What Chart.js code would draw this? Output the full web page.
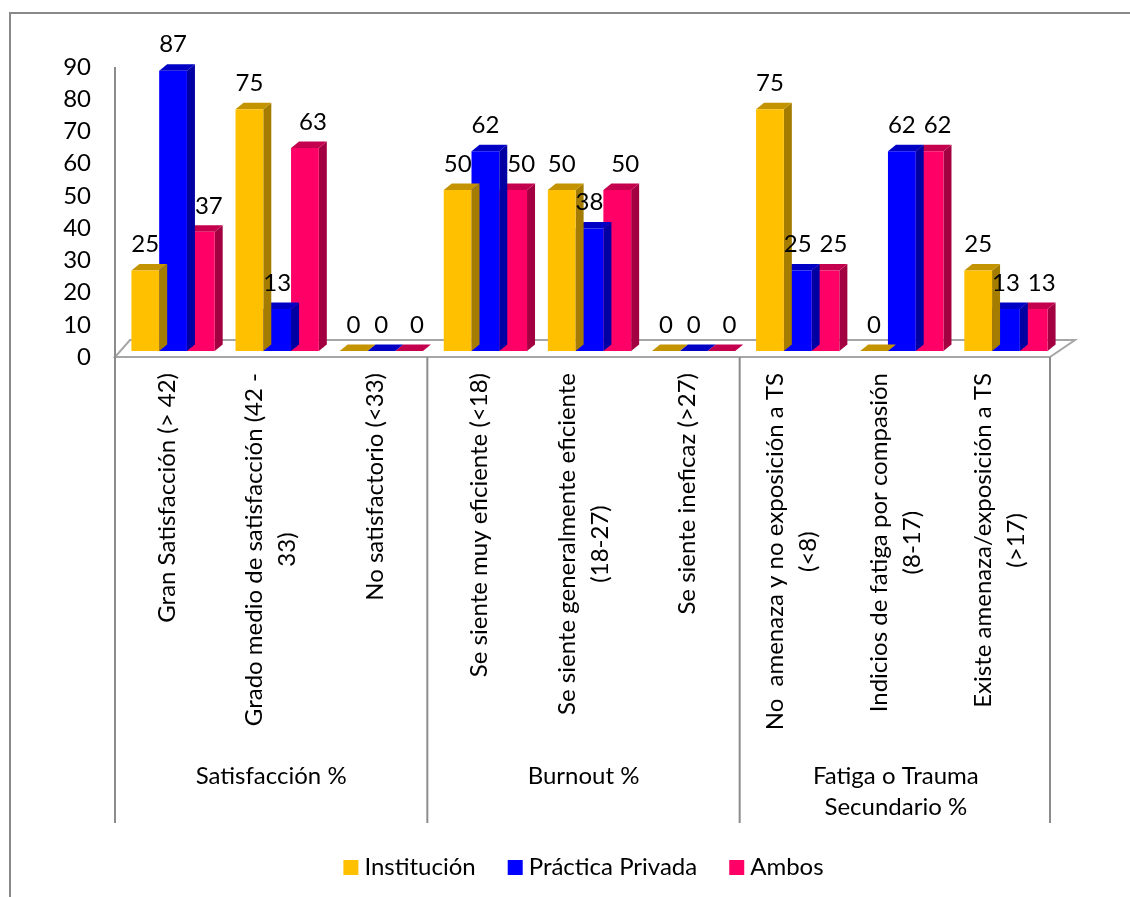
<!DOCTYPE html>
<html>
<head>
<meta charset="utf-8">
<script src="https://cdn.jsdelivr.net/npm/chart.js@4.4.0/dist/chart.umd.min.js"></script>
<style>
  html, body { margin: 0; padding: 0; background: #fff; }
  canvas { display: block; }
</style>
</head>
<body>
<canvas id="grafico" width="1130" height="897"></canvas>
<script>
// categorías del eje X (cada una puede tener dos líneas)
const categorias = [
  ["Gran Satisfacción (> 42)"],
  ["Grado medio de satisfacción (42 -", "33)"],
  ["No satisfactorio (<33)"],
  ["Se siente muy eficiente (<18)"],
  ["Se siente generalmente eficiente", "(18-27)"],
  ["Se siente ineficaz (>27)"],
  ["No  amenaza y no exposición a TS", "(<8)"],
  ["Indicios de fatiga por compasión", "(8-17)"],
  ["Existe amenaza/exposición a TS", "(>17)"],
];
// grupos de tres categorías
const grupos = [["Satisfacción %"], ["Burnout %"], ["Fatiga o Trauma", "Secundario %"]];

// series
const institucion = [25, 75, 0, 50, 50, 0, 75, 0, 25];
const practicaPrivada = [87, 13, 0, 62, 38, 0, 25, 62, 13];
const ambos = [37, 63, 0, 50, 50, 0, 25, 62, 13];

const yTicks = [0, 10, 20, 30, 40, 50, 60, 70, 80, 90];

const FUENTE = "Lato, 'DejaVu Sans', sans-serif";
const TAM = 24;
const DX = 8, DY = 6.5;      // profundidad de las barras
const FRENTE = 6;            // desplazamiento del plano frontal

// caras laterales y superiores de las barras + piso
const barras3d = {
  id: "barras3d",
  beforeDatasetsDraw(chart) {
    const { ctx, chartArea: a } = chart;
    const fy = a.bottom + FRENTE, by = a.bottom - 11;
    ctx.save();
    ctx.strokeStyle = "#a6a6a6";
    ctx.lineWidth = 2;
    ctx.beginPath();
    ctx.moveTo(a.left - FRENTE, fy);
    ctx.lineTo(a.right - 8, fy);
    ctx.lineTo(a.right + 17, by);
    ctx.lineTo(a.left + 9, by);
    ctx.closePath();
    ctx.stroke();
    ctx.restore();
  },
  beforeDatasetDraw(chart, args) {
    const ds = chart.data.datasets[args.index];
    const ctx = chart.ctx;
    ctx.save();
    args.meta.data.forEach((el) => {
      const l = el.x - el.width / 2, r = el.x + el.width / 2;
      const t = el.y, b = el.base;
      ctx.fillStyle = ds.colorLado;
      ctx.beginPath();
      ctx.moveTo(r, b);
      ctx.lineTo(r, t);
      ctx.lineTo(r + DX, t - DY);
      ctx.lineTo(r + DX, b - DY);
      ctx.closePath();
      ctx.fill();
      ctx.fillStyle = ds.colorTapa;
      ctx.beginPath();
      ctx.moveTo(l, t);
      ctx.lineTo(r, t);
      ctx.lineTo(r + DX, t - DY);
      ctx.lineTo(l + DX, t - DY);
      ctx.closePath();
      ctx.fill();
    });
    ctx.restore();
  },
  afterDatasetsDraw(chart) {
    // valores sobre las barras
    const ctx = chart.ctx;
    ctx.save();
    ctx.font = TAM + "px " + FUENTE;
    ctx.fillStyle = "#000";
    ctx.textAlign = "center";
    ctx.textBaseline = "middle";
    chart.data.datasets.forEach((ds, i) => {
      chart.getDatasetMeta(i).data.forEach((el, j) => {
        ctx.fillText(String(ds.data[j]), el.x + ds.desplLabel, el.y - 26);
      });
    });
    ctx.restore();
  },
  afterDraw(chart) {
    const { ctx, chartArea: a, scales } = chart;
    const x = scales.x, y = scales.y;
    const fy = a.bottom + FRENTE;
    const paso = (a.right - a.left) / categorias.length;
    ctx.save();

    // marco exterior
    ctx.strokeStyle = "#898989";
    ctx.lineWidth = 2;
    ctx.beginPath();
    ctx.moveTo(10, 897);
    ctx.lineTo(10, 13);
    ctx.lineTo(1130, 13);
    ctx.stroke();

    // eje Y y separadores de grupos
    ctx.strokeStyle = "#8c8c8c";
    ctx.beginPath();
    ctx.moveTo(a.left - FRENTE, y.getPixelForValue(90) + FRENTE);
    ctx.lineTo(a.left - FRENTE, 823);
    for (let k = 1; k <= grupos.length; k++) {
      const sx = a.left - FRENTE + paso * 3 * k - (k === grupos.length ? 2 : 0);
      ctx.moveTo(sx, fy);
      ctx.lineTo(sx, 823);
    }
    ctx.stroke();

    // etiquetas de categoría (giradas)
    ctx.font = TAM + "px " + FUENTE;
    ctx.fillStyle = "#000";
    ctx.textAlign = "center";
    ctx.textBaseline = "middle";
    categorias.forEach((lineas, i) => {
      const cx = x.getPixelForValue(i) - FRENTE;
      const w = Math.max(...lineas.map((s) => ctx.measureText(s).width));
      ctx.save();
      ctx.translate(cx, 373);
      ctx.rotate(-Math.PI / 2);
      lineas.forEach((s, k) => {
        ctx.fillText(s, -w / 2, (k - (lineas.length - 1) / 2) * 33);
      });
      ctx.restore();
    });

    // etiquetas de grupo
    grupos.forEach((lineas, g) => {
      const gx = (x.getPixelForValue(3 * g) + x.getPixelForValue(3 * g + 2)) / 2 - FRENTE;
      lineas.forEach((s, k) => ctx.fillText(s, gx, 776 + k * 31));
    });

    // leyenda
    const items = chart.data.datasets.map((ds) => ({ t: ds.label, c: ds.backgroundColor }));
    const anchos = items.map((it) => 15 + 6 + ctx.measureText(it.t).width);
    const total = anchos.reduce((s, v) => s + v, 0) + 32 * (items.length - 1);
    let lx = (a.left + a.right) / 2 - FRENTE - total / 2;
    ctx.textAlign = "left";
    items.forEach((it, i) => {
      ctx.fillStyle = it.c;
      ctx.fillRect(lx, 860, 15, 15);
      ctx.fillStyle = "#000";
      ctx.fillText(it.t, lx + 21, 867);
      lx += anchos[i] + 32;
    });

    ctx.restore();
  },
};

new Chart(document.getElementById("grafico"), {
  type: "bar",
  data: {
    labels: categorias,
    datasets: [
      { label: "Institución", data: institucion, backgroundColor: "#ffc000", colorLado: "#a37c00", colorTapa: "#c49400", desplLabel: 0 },
      { label: "Práctica Privada", data: practicaPrivada, backgroundColor: "#0000ff", colorLado: "#0000a3", colorTapa: "#0000c4", desplLabel: 0 },
      { label: "Ambos", data: ambos, backgroundColor: "#ff0066", colorLado: "#a30041", colorTapa: "#c4004e", desplLabel: 8 },
    ],
  },
  options: {
    responsive: false,
    animation: false,
    devicePixelRatio: 1,
    layout: { padding: { top: 61, right: 72, bottom: 546, left: 0 } },
    datasets: { bar: { categoryPercentage: 0.8, barPercentage: 1.0, borderWidth: 0 } },
    plugins: { legend: { display: false }, tooltip: { enabled: false } },
    scales: {
      x: { display: false },
      y: {
        min: 0,
        max: 90,
        afterBuildTicks: (s) => { s.ticks = yTicks.map((v) => ({ value: v })); },
        afterFit: (s) => { s.width = 121; },
        grid: { display: false, drawTicks: false },
        border: { display: false },
        ticks: { padding: 30, labelOffset: 6, color: "#000", font: { family: FUENTE, size: TAM } },
      },
    },
  },
  plugins: [barras3d],
});
</script>
</body>
</html>
